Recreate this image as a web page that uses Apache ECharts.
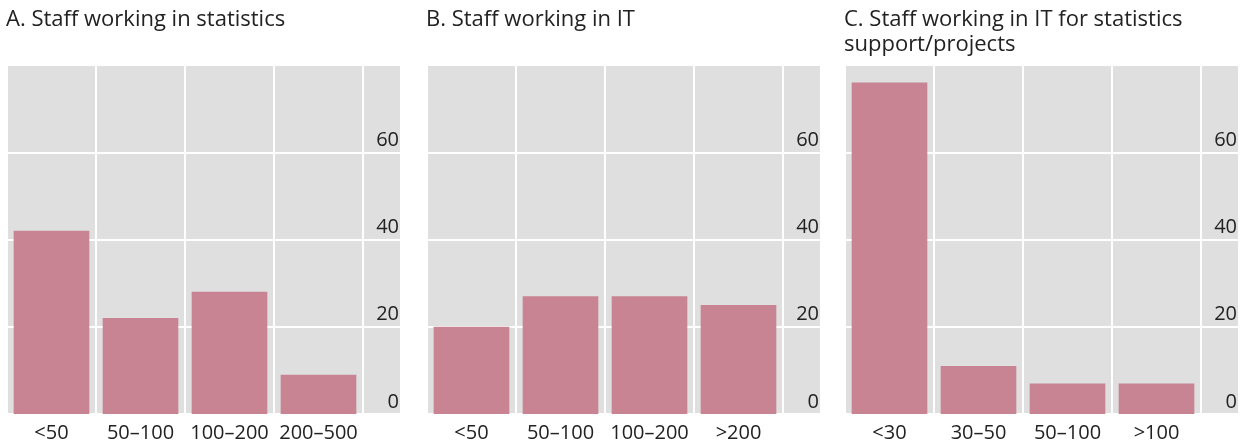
<!DOCTYPE html>
<html>
<head>
<meta charset="utf-8">
<style>
  html, body { margin: 0; padding: 0; background: #ffffff; }
  #chart { width: 1248px; height: 446px; }
</style>
<script src="https://cdn.jsdelivr.net/npm/echarts@6/dist/echarts.min.js"></script>
</head>
<body>
<div id="chart"></div>
<script>
// ---- data ----
const titles = [
  'A. Staff working in statistics',
  'B. Staff working in IT',
  'C. Staff working in IT for statistics\nsupport/projects'
];
const catsA = ['<50', '50–100', '100–200', '200–500'];
const valsA = [42, 22, 28, 9];
const catsB = ['<50', '50–100', '100–200', '>200'];
const valsB = [20, 27, 27, 25];
const catsC = ['<30', '30–50', '50–100', '>100'];
const valsC = [76, 11, 7, 7];
const yMin = 0, yMax = 80, yStep = 20;

// ---- layout / style ----
const FONT = '"Open Sans", "Noto Sans", sans-serif';
const TEXT = '#222222';
const GRAY = '#dfdfdf';
const BAR = '#c88492';
const panelLeft = [7, 427, 845];
const mainW = 356, stripW = 37, gridTop = 65, gridBottom = 32;

const cats = [catsA, catsB, catsC];
const vals = [valsA, valsB, valsC];

const option = {
  animation: false,
  backgroundColor: '#ffffff',
  textStyle: { fontFamily: FONT },
  title: [], grid: [], xAxis: [], yAxis: [], series: []
};

for (let i = 0; i < 3; i++) {
  option.title.push({
    text: titles[i], left: panelLeft[i] - 6, top: 2,
    textStyle: { fontFamily: FONT, fontSize: 22, fontWeight: 'normal', color: TEXT, lineHeight: 25 }
  });
  option.grid.push({
    left: panelLeft[i], width: mainW, top: gridTop, bottom: gridBottom,
    show: true, backgroundColor: GRAY, borderWidth: 0
  });
  option.grid.push({
    left: panelLeft[i] + mainW, width: stripW, top: gridTop, bottom: gridBottom,
    show: true, backgroundColor: GRAY, borderWidth: 0
  });
  const gMain = i * 2, gStrip = i * 2 + 1;
  option.xAxis.push({
    type: 'category', gridIndex: gMain, data: cats[i],
    axisLine: { show: false }, axisTick: { show: false },
    axisLabel: { color: TEXT, fontSize: 20, margin: 9, fontFamily: FONT, interval: 0 },
    splitLine: { show: true, lineStyle: { color: '#ffffff', width: 2 } }
  });
  option.xAxis.push({ type: 'value', gridIndex: gStrip, show: false, min: 0, max: 1 });
  option.yAxis.push({
    type: 'value', gridIndex: gMain, min: yMin, max: yMax, interval: yStep,
    axisLine: { show: false }, axisTick: { show: false }, axisLabel: { show: false },
    splitLine: { show: true, lineStyle: { color: '#ffffff', width: 2 } }
  });
  option.yAxis.push({
    type: 'value', gridIndex: gStrip, position: 'right', min: yMin, max: yMax, interval: yStep,
    axisLine: { show: false }, axisTick: { show: false },
    axisLabel: { inside: true, margin: 1, color: TEXT, fontSize: 20, fontFamily: FONT,
      verticalAlign: 'bottom', padding: [0, 0, 2, 0], showMaxLabel: false },
    splitLine: { show: true, lineStyle: { color: '#ffffff', width: 2 } }
  });
  option.series.push({
    type: 'bar', xAxisIndex: gMain, yAxisIndex: gMain, data: vals[i],
    barCategoryGap: '15%', itemStyle: { color: BAR }
  });
}

const chart = echarts.init(document.getElementById('chart'), null, { renderer: 'canvas' });
chart.setOption(option);
</script>
</body>
</html>
